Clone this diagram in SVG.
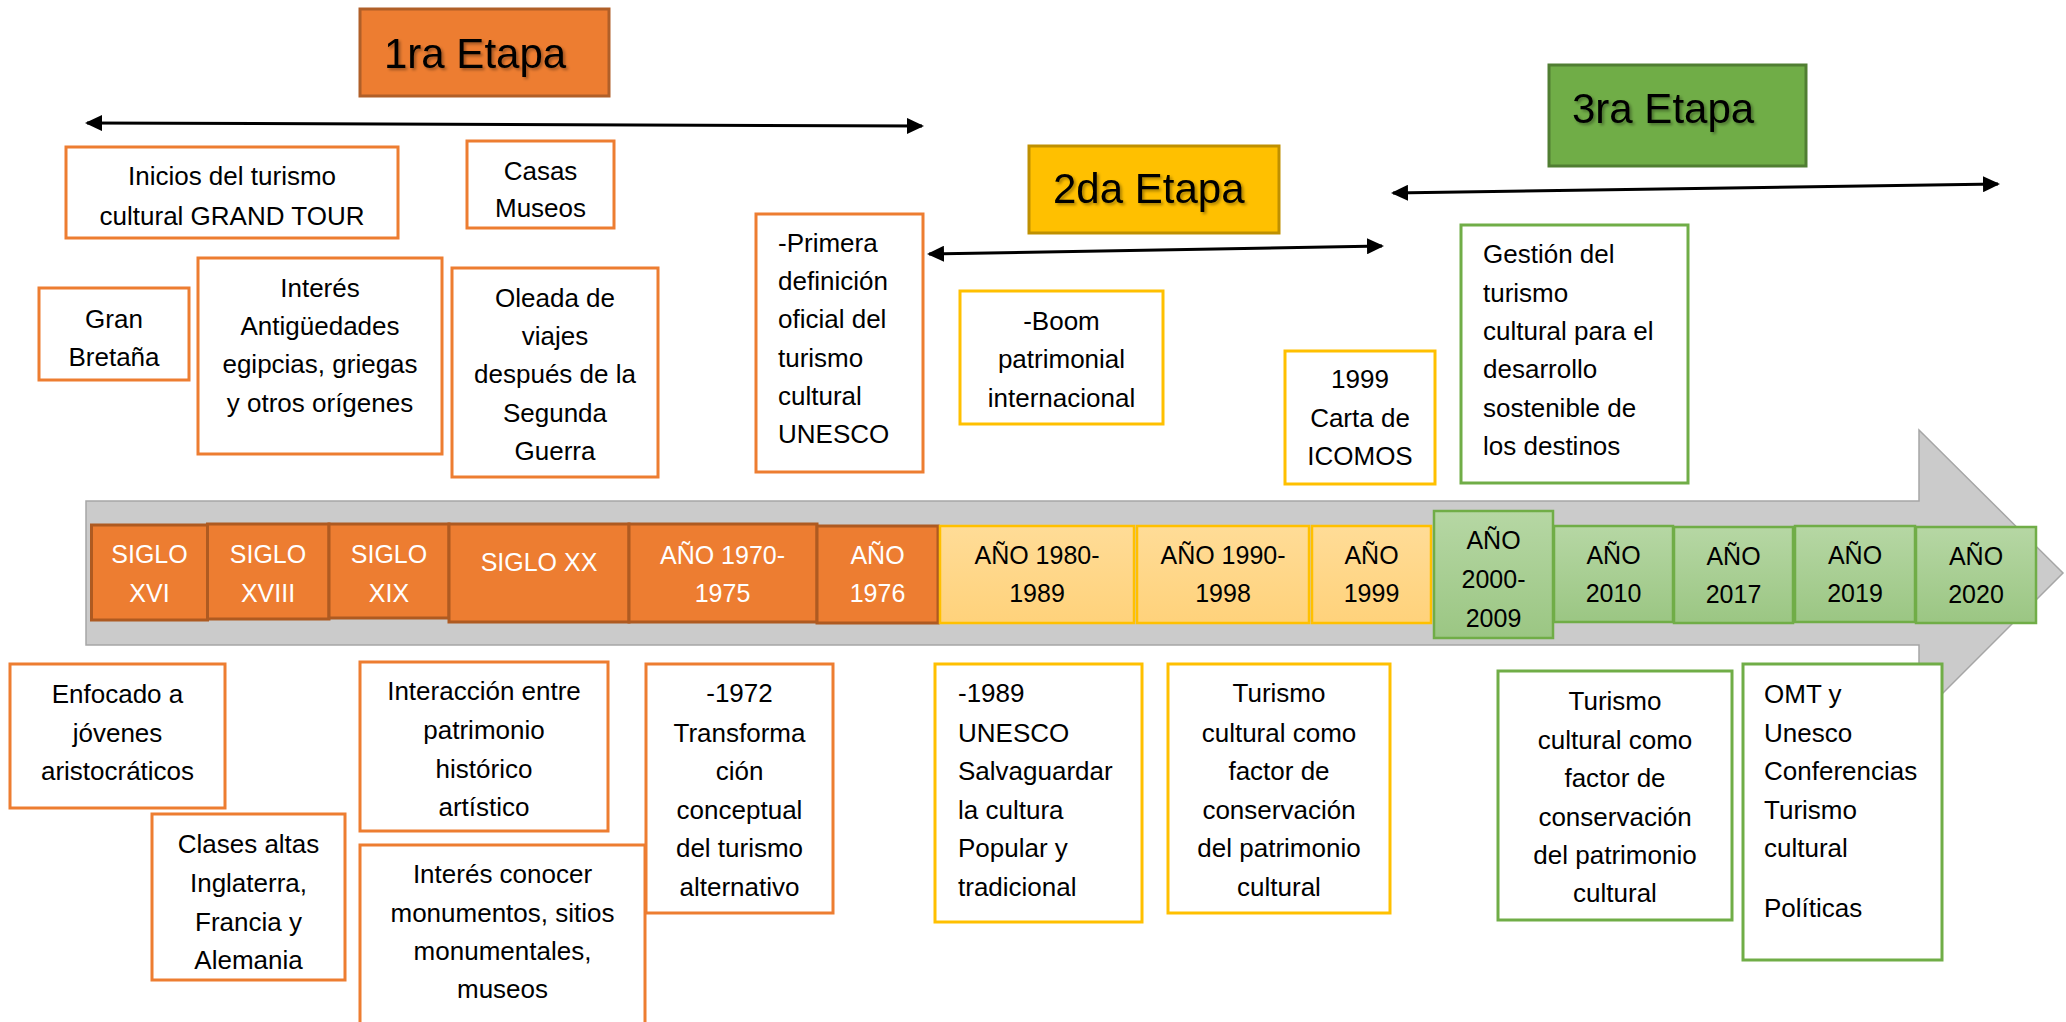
<svg xmlns="http://www.w3.org/2000/svg" width="2066" height="1022" viewBox="0 0 2066 1022">
  <defs>
    <style>
      text { font-family: "Liberation Sans", Arial, sans-serif; font-size: 26px; fill: #000; }
      .c { text-anchor: middle; }
      .tl { font-size: 25px; text-anchor: middle; }
      .w { fill: #fff; }
      .title { font-size: 42px; filter: url(#shadow); }
      .bo { fill: #fff; stroke: #ED7D31; stroke-width: 3; }
      .by { fill: #fff; stroke: #FFC000; stroke-width: 3; }
      .bg { fill: #fff; stroke: #70AD47; stroke-width: 3; }
      .to { fill: #ED7D31; stroke: #AE5A21; stroke-width: 3; }
      .ty { fill: url(#gy); stroke: #FFC000; stroke-width: 2.5; }
      .tg { fill: url(#gg); stroke: #70AD47; stroke-width: 2.5; }
      .conn { stroke: #000; stroke-width: 3; fill: none; marker-start: url(#ah); marker-end: url(#ah); }
    </style>
    <linearGradient id="gy" x1="0" y1="0" x2="0" y2="1">
      <stop offset="0" stop-color="#FFDC97"/>
      <stop offset="1" stop-color="#FFD27B"/>
    </linearGradient>
    <linearGradient id="gg" x1="0" y1="0" x2="0" y2="1">
      <stop offset="0" stop-color="#B6D7A4"/>
      <stop offset="1" stop-color="#9BC683"/>
    </linearGradient>
    <marker id="ah" markerUnits="userSpaceOnUse" markerWidth="18" markerHeight="16" viewBox="0 0 18 16" refX="15" refY="8" orient="auto-start-reverse">
      <path d="M0,0 L17,8 L0,16 z" fill="#000"/>
    </marker>
    <filter id="shadow" x="-10%" y="-20%" width="130%" height="150%">
      <feDropShadow dx="2" dy="2" stdDeviation="1.5" flood-color="#000" flood-opacity="0.35"/>
    </filter>
  </defs>

  <!-- big gray timeline arrow -->
  <g id="timeline-arrow">
    <polygon points="86,501 1919,501 1919,430 2063,573 1919,717 1919,645 86,645" fill="#CBCBCB" stroke="#A6A6A6" stroke-width="1.5"/>
  </g>

  <!-- stage titles -->
  <g id="etapa1">
    <rect x="360" y="9" width="249" height="87" fill="#ED7D31" stroke="#B05F28" stroke-width="3"/>
    <text class="title" x="384" y="68">1ra Etapa</text>
  </g>
  <g id="etapa2">
    <rect x="1029" y="146" width="250" height="87" fill="#FFC000" stroke="#BF9000" stroke-width="3"/>
    <text class="title" x="1053" y="203">2da Etapa</text>
  </g>
  <g id="etapa3">
    <rect x="1549" y="65" width="257" height="101" fill="#70AD47" stroke="#507E32" stroke-width="3"/>
    <text class="title" x="1572" y="123">3ra Etapa</text>
  </g>

  <!-- connectors -->
  <g id="connectors">
    <line class="conn" x1="87" y1="123" x2="922" y2="126"/>
    <line class="conn" x1="929" y1="254" x2="1382" y2="246"/>
    <line class="conn" x1="1393" y1="193" x2="1998" y2="184"/>
  </g>

  <!-- timeline periods -->
  <g id="siglo-xvi">
    <rect class="to" x="91.5" y="525" width="116" height="95"/>
    <text class="tl w" x="149.5" y="563">SIGLO</text>
    <text class="tl w" x="149.5" y="602">XVI</text>
  </g>
  <g id="siglo-xviii">
    <rect class="to" x="207.5" y="524" width="121.5" height="95"/>
    <text class="tl w" x="268" y="563">SIGLO</text>
    <text class="tl w" x="268" y="602">XVIII</text>
  </g>
  <g id="siglo-xix">
    <rect class="to" x="329" y="524" width="120" height="94"/>
    <text class="tl w" x="389" y="563">SIGLO</text>
    <text class="tl w" x="389" y="602">XIX</text>
  </g>
  <g id="siglo-xx">
    <rect class="to" x="449" y="524" width="180" height="98"/>
    <text class="tl w" x="539" y="571">SIGLO XX</text>
  </g>
  <g id="ano-1970">
    <rect class="to" x="629" y="524" width="188" height="98"/>
    <text class="tl w" x="722.5" y="564">AÑO 1970-</text>
    <text class="tl w" x="722.5" y="602">1975</text>
  </g>
  <g id="ano-1976">
    <rect class="to" x="817" y="526" width="121" height="97"/>
    <text class="tl w" x="877.5" y="564">AÑO</text>
    <text class="tl w" x="877.5" y="602">1976</text>
  </g>
  <g id="ano-1980">
    <rect class="ty" x="940" y="526" width="194" height="97"/>
    <text class="tl" x="1037" y="564">AÑO 1980-</text>
    <text class="tl" x="1037" y="602">1989</text>
  </g>
  <g id="ano-1990">
    <rect class="ty" x="1137" y="526" width="172" height="97"/>
    <text class="tl" x="1223" y="564">AÑO 1990-</text>
    <text class="tl" x="1223" y="602">1998</text>
  </g>
  <g id="ano-1999">
    <rect class="ty" x="1312" y="526" width="119" height="97"/>
    <text class="tl" x="1371.5" y="564">AÑO</text>
    <text class="tl" x="1371.5" y="602">1999</text>
  </g>
  <g id="ano-2000">
    <rect class="tg" x="1434" y="511" width="119" height="127"/>
    <text class="tl" x="1493.5" y="549">AÑO</text>
    <text class="tl" x="1493.5" y="588">2000-</text>
    <text class="tl" x="1493.5" y="627">2009</text>
  </g>
  <g id="ano-2010">
    <rect class="tg" x="1554" y="526" width="119" height="96"/>
    <text class="tl" x="1613.5" y="564">AÑO</text>
    <text class="tl" x="1613.5" y="602">2010</text>
  </g>
  <g id="ano-2017">
    <rect class="tg" x="1674" y="527" width="119" height="96"/>
    <text class="tl" x="1733.5" y="565">AÑO</text>
    <text class="tl" x="1733.5" y="603">2017</text>
  </g>
  <g id="ano-2019">
    <rect class="tg" x="1795" y="526" width="120" height="96"/>
    <text class="tl" x="1855" y="564">AÑO</text>
    <text class="tl" x="1855" y="602">2019</text>
  </g>
  <g id="ano-2020">
    <rect class="tg" x="1916" y="527" width="120" height="96"/>
    <text class="tl" x="1976" y="565">AÑO</text>
    <text class="tl" x="1976" y="603">2020</text>
  </g>

  <!-- upper notes -->
  <g id="inicios">
    <rect class="bo" x="66" y="147" width="332" height="91"/>
    <text class="c" x="232" y="185">Inicios del turismo</text>
    <text class="c" x="232" y="225">cultural GRAND TOUR</text>
  </g>
  <g id="casas-museos">
    <rect class="bo" x="467" y="141" width="147" height="87"/>
    <text class="c" x="540.5" y="180">Casas</text>
    <text class="c" x="540.5" y="217">Museos</text>
  </g>
  <g id="gran-bretana">
    <rect class="bo" x="39" y="288" width="150" height="92"/>
    <text class="c" x="114" y="328">Gran</text>
    <text class="c" x="114" y="366">Bretaña</text>
  </g>
  <g id="interes-antiguedades">
    <rect class="bo" x="198" y="258" width="244" height="196"/>
    <text class="c" x="320" y="297">Interés</text>
    <text class="c" x="320" y="335">Antigüedades</text>
    <text class="c" x="320" y="373">egipcias, griegas</text>
    <text class="c" x="320" y="412">y otros orígenes</text>
  </g>
  <g id="oleada">
    <rect class="bo" x="452" y="268" width="206" height="209"/>
    <text class="c" x="555" y="307">Oleada de</text>
    <text class="c" x="555" y="345">viajes</text>
    <text class="c" x="555" y="383">después de la</text>
    <text class="c" x="555" y="422">Segunda</text>
    <text class="c" x="555" y="460">Guerra</text>
  </g>
  <g id="primera-definicion">
    <rect class="bo" x="756" y="214" width="167" height="258"/>
    <text x="778" y="252">-Primera</text>
    <text x="778" y="290">definición</text>
    <text x="778" y="328">oficial del</text>
    <text x="778" y="367">turismo</text>
    <text x="778" y="405">cultural</text>
    <text x="778" y="443">UNESCO</text>
  </g>
  <g id="boom">
    <rect class="by" x="960" y="291" width="203" height="133"/>
    <text class="c" x="1061.5" y="330">-Boom</text>
    <text class="c" x="1061.5" y="368">patrimonial</text>
    <text class="c" x="1061.5" y="407">internacional</text>
  </g>
  <g id="carta-icomos">
    <rect class="by" x="1285" y="351" width="150" height="133"/>
    <text class="c" x="1360" y="388">1999</text>
    <text class="c" x="1360" y="427">Carta de</text>
    <text class="c" x="1360" y="465">ICOMOS</text>
  </g>
  <g id="gestion">
    <rect class="bg" x="1461" y="225" width="227" height="258"/>
    <text x="1483" y="263">Gestión del</text>
    <text x="1483" y="302">turismo</text>
    <text x="1483" y="340">cultural para el</text>
    <text x="1483" y="378">desarrollo</text>
    <text x="1483" y="417">sostenible de</text>
    <text x="1483" y="455">los destinos</text>
  </g>

  <!-- lower notes -->
  <g id="enfocado">
    <rect class="bo" x="10" y="664" width="215" height="144"/>
    <text class="c" x="117.5" y="703">Enfocado a</text>
    <text class="c" x="117.5" y="742">jóvenes</text>
    <text class="c" x="117.5" y="780">aristocráticos</text>
  </g>
  <g id="clases-altas">
    <rect class="bo" x="152" y="814" width="193" height="166"/>
    <text class="c" x="248.5" y="853">Clases altas</text>
    <text class="c" x="248.5" y="892">Inglaterra,</text>
    <text class="c" x="248.5" y="931">Francia y</text>
    <text class="c" x="248.5" y="969">Alemania</text>
  </g>
  <g id="interaccion">
    <rect class="bo" x="360" y="662" width="248" height="169"/>
    <text class="c" x="484" y="700">Interacción entre</text>
    <text class="c" x="484" y="739">patrimonio</text>
    <text class="c" x="484" y="778">histórico</text>
    <text class="c" x="484" y="816">artístico</text>
  </g>
  <g id="interes-conocer">
    <rect class="bo" x="360" y="845" width="285" height="190"/>
    <text class="c" x="502.5" y="883">Interés conocer</text>
    <text class="c" x="502.5" y="922">monumentos, sitios</text>
    <text class="c" x="502.5" y="960">monumentales,</text>
    <text class="c" x="502.5" y="998">museos</text>
  </g>
  <g id="transformacion">
    <rect class="bo" x="646" y="664" width="187" height="249"/>
    <text class="c" x="739.5" y="702">-1972</text>
    <text class="c" x="739.5" y="742">Transforma</text>
    <text class="c" x="739.5" y="780">ción</text>
    <text class="c" x="739.5" y="819">conceptual</text>
    <text class="c" x="739.5" y="857">del turismo</text>
    <text class="c" x="739.5" y="896">alternativo</text>
  </g>
  <g id="unesco-1989">
    <rect class="by" x="935" y="664" width="207" height="258"/>
    <text x="958" y="702">-1989</text>
    <text x="958" y="742">UNESCO</text>
    <text x="958" y="780">Salvaguardar</text>
    <text x="958" y="819">la cultura</text>
    <text x="958" y="857">Popular y</text>
    <text x="958" y="896">tradicional</text>
  </g>
  <g id="turismo-conservacion-1">
    <rect class="by" x="1168" y="664" width="222" height="249"/>
    <text class="c" x="1279" y="702">Turismo</text>
    <text class="c" x="1279" y="742">cultural como</text>
    <text class="c" x="1279" y="780">factor de</text>
    <text class="c" x="1279" y="819">conservación</text>
    <text class="c" x="1279" y="857">del patrimonio</text>
    <text class="c" x="1279" y="896">cultural</text>
  </g>
  <g id="turismo-conservacion-2">
    <rect class="bg" x="1498" y="671" width="234" height="249"/>
    <text class="c" x="1615" y="710">Turismo</text>
    <text class="c" x="1615" y="749">cultural como</text>
    <text class="c" x="1615" y="787">factor de</text>
    <text class="c" x="1615" y="826">conservación</text>
    <text class="c" x="1615" y="864">del patrimonio</text>
    <text class="c" x="1615" y="902">cultural</text>
  </g>
  <g id="omt-unesco">
    <rect class="bg" x="1743" y="664" width="199" height="296"/>
    <text x="1764" y="703">OMT y</text>
    <text x="1764" y="742">Unesco</text>
    <text x="1764" y="780">Conferencias</text>
    <text x="1764" y="819">Turismo</text>
    <text x="1764" y="857">cultural</text>
    <text x="1764" y="917">Políticas</text>
  </g>
</svg>
